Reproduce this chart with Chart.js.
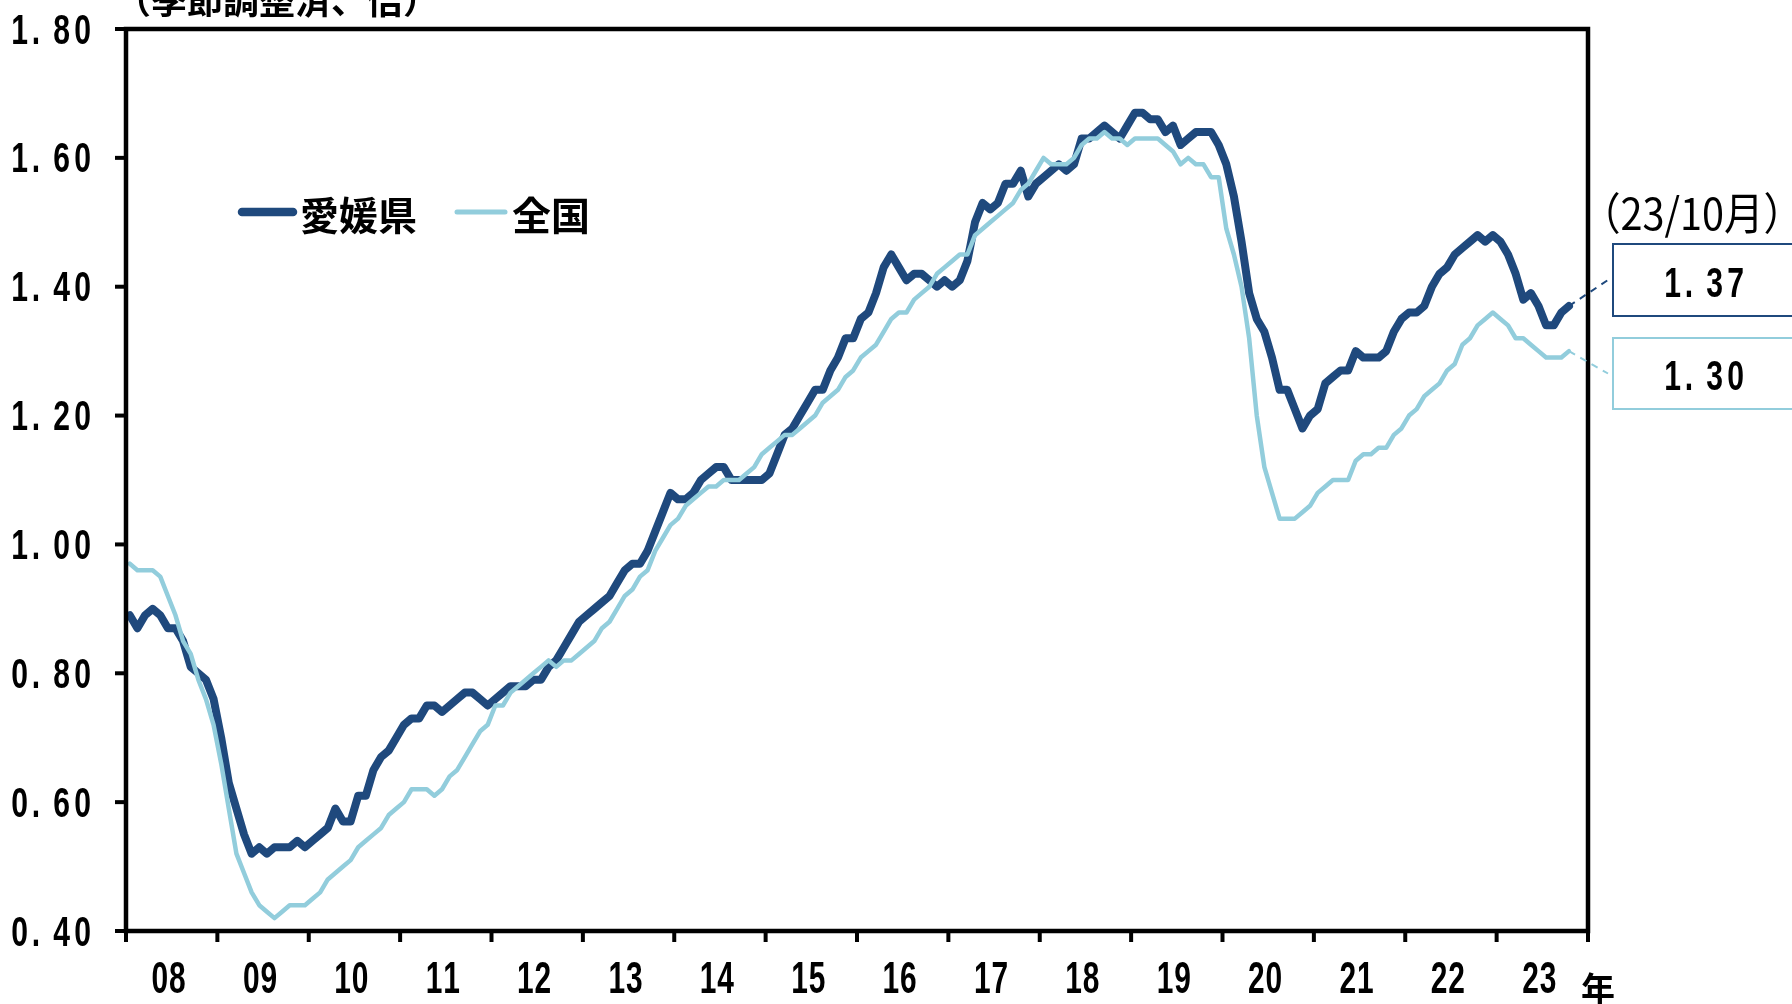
<!DOCTYPE html>
<html lang="ja">
<head>
<meta charset="UTF-8">
<title>有効求人倍率（愛媛県・全国）</title>
<script src="https://cdn.jsdelivr.net/npm/chart.js@4/dist/chart.umd.min.js"></script>
<style>
  html, body { margin: 0; padding: 0; background: #fff; }
  #wrap { width: 1792px; height: 1004px; overflow: hidden; }
</style>
</head>
<body>
<div id="wrap"><canvas id="grafico" width="1792" height="1004"></canvas></div>
<script>
// ---------------------------------------------------------
// Dados (mensal, jan/2008 a out/2023)
// ---------------------------------------------------------
const anos = ["08", "09", "10", "11", "12", "13", "14", "15",
  "16", "17", "18", "19", "20", "21", "22", "23"];

const yTicks = [0.4, 0.6, 0.8, 1.0, 1.2, 1.4, 1.6, 1.8];

const ehime = [
  0.89, 0.87, 0.89, 0.90, 0.89, 0.87, 0.87, 0.85, 0.81, 0.80, 0.79, 0.76,
  0.70, 0.63, 0.59, 0.55, 0.52, 0.53, 0.52, 0.53, 0.53, 0.53, 0.54, 0.53,
  0.54, 0.55, 0.56, 0.59, 0.57, 0.57, 0.61, 0.61, 0.65, 0.67, 0.68, 0.70,
  0.72, 0.73, 0.73, 0.75, 0.75, 0.74, 0.75, 0.76, 0.77, 0.77, 0.76, 0.75,
  0.76, 0.77, 0.78, 0.78, 0.78, 0.79, 0.79, 0.81, 0.82, 0.84, 0.86, 0.88,
  0.89, 0.90, 0.91, 0.92, 0.94, 0.96, 0.97, 0.97, 0.99, 1.02, 1.05, 1.08,
  1.07, 1.07, 1.08, 1.10, 1.11, 1.12, 1.12, 1.10, 1.10, 1.10, 1.10, 1.10,
  1.11, 1.14, 1.17, 1.18, 1.20, 1.22, 1.24, 1.24, 1.27, 1.29, 1.32, 1.32,
  1.35, 1.36, 1.39, 1.43, 1.45, 1.43, 1.41, 1.42, 1.42, 1.41, 1.40, 1.41,
  1.40, 1.41, 1.44, 1.50, 1.53, 1.52, 1.53, 1.56, 1.56, 1.58, 1.54, 1.56,
  1.57, 1.58, 1.59, 1.58, 1.59, 1.63, 1.63, 1.64, 1.65, 1.64, 1.63, 1.65,
  1.67, 1.67, 1.66, 1.66, 1.64, 1.65, 1.62, 1.63, 1.64, 1.64, 1.64, 1.62,
  1.59, 1.54, 1.47, 1.39, 1.35, 1.33, 1.29, 1.24, 1.24, 1.21, 1.18, 1.20,
  1.21, 1.25, 1.26, 1.27, 1.27, 1.30, 1.29, 1.29, 1.29, 1.30, 1.33, 1.35,
  1.36, 1.36, 1.37, 1.40, 1.42, 1.43, 1.45, 1.46, 1.47, 1.48, 1.47, 1.48,
  1.47, 1.45, 1.42, 1.38, 1.39, 1.37, 1.34, 1.34, 1.36, 1.37,
];

const zenkoku = [
  0.97, 0.96, 0.96, 0.96, 0.95, 0.92, 0.89, 0.85, 0.83, 0.79, 0.76, 0.72,
  0.66, 0.59, 0.52, 0.49, 0.46, 0.44, 0.43, 0.42, 0.43, 0.44, 0.44, 0.44,
  0.45, 0.46, 0.48, 0.49, 0.50, 0.51, 0.53, 0.54, 0.55, 0.56, 0.58, 0.59,
  0.60, 0.62, 0.62, 0.62, 0.61, 0.62, 0.64, 0.65, 0.67, 0.69, 0.71, 0.72,
  0.75, 0.75, 0.77, 0.78, 0.79, 0.80, 0.81, 0.82, 0.81, 0.82, 0.82, 0.83,
  0.84, 0.85, 0.87, 0.88, 0.90, 0.92, 0.93, 0.95, 0.96, 0.99, 1.01, 1.03,
  1.04, 1.06, 1.07, 1.08, 1.09, 1.09, 1.10, 1.10, 1.10, 1.11, 1.12, 1.14,
  1.15, 1.16, 1.17, 1.17, 1.18, 1.19, 1.20, 1.22, 1.23, 1.24, 1.26, 1.27,
  1.29, 1.30, 1.31, 1.33, 1.35, 1.36, 1.36, 1.38, 1.39, 1.40, 1.42, 1.43,
  1.44, 1.45, 1.45, 1.48, 1.49, 1.50, 1.51, 1.52, 1.53, 1.55, 1.56, 1.58,
  1.60, 1.59, 1.59, 1.59, 1.60, 1.62, 1.63, 1.63, 1.64, 1.63, 1.63, 1.62,
  1.63, 1.63, 1.63, 1.63, 1.62, 1.61, 1.59, 1.60, 1.59, 1.59, 1.57, 1.57,
  1.49, 1.45, 1.40, 1.32, 1.20, 1.12, 1.08, 1.04, 1.04, 1.04, 1.05, 1.06,
  1.08, 1.09, 1.10, 1.10, 1.10, 1.13, 1.14, 1.14, 1.15, 1.15, 1.17, 1.18,
  1.20, 1.21, 1.23, 1.24, 1.25, 1.27, 1.28, 1.31, 1.32, 1.34, 1.35, 1.36,
  1.35, 1.34, 1.32, 1.32, 1.31, 1.30, 1.29, 1.29, 1.29, 1.30,
];

const ultimoMes = "（23/10月）";

const COR_EHIME = "#1F497D";
const COR_ZENKOKU = "#92CDDC";
const FONTE_SANS = "'Liberation Sans', Arial, sans-serif";
const FONTE_JP = "'Noto Sans CJK JP', 'Noto Sans CJK SC', sans-serif";

// ---------------------------------------------------------
// Texto numérico estreito, um caractere por célula
// ---------------------------------------------------------
function textoMono(ctx, texto, cx, cy, celula, sx, fonte) {
  ctx.font = fonte;
  ctx.textAlign = "center";
  ctx.textBaseline = "alphabetic";
  const inicio = cx - (texto.length * celula) / 2;
  for (let i = 0; i < texto.length; i++) {
    const ch = texto[i];
    const desloc = ch === "." ? -celula * 0.22 : 0;
    ctx.save();
    ctx.translate(inicio + (i + 0.5) * celula + desloc, cy + 15.5);
    ctx.scale(sx, 1);
    ctx.fillText(ch, 0, 0);
    ctx.restore();
  }
}

const FONTE_EIXO = "bold 43px " + FONTE_SANS;
const FONTE_ANO = "bold 44px " + FONTE_SANS;

// ---------------------------------------------------------
// Eixos, rótulos, legenda e caixas do último valor
// ---------------------------------------------------------
const desenho = {
  id: "desenho",
  afterDraw(chart) {
    const { ctx, chartArea: a } = chart;
    const x = chart.scales.x;
    const y = chart.scales.y;
    ctx.save();
    ctx.fillStyle = "#000";
    ctx.strokeStyle = "#000";

    // moldura
    ctx.lineWidth = 4.5;
    ctx.strokeRect(a.left, a.top, a.right - a.left, a.bottom - a.top);

    // eixo Y
    ctx.lineWidth = 4;
    yTicks.forEach((v) => {
      const py = y.getPixelForValue(v);
      ctx.beginPath();
      ctx.moveTo(a.left - 11, py);
      ctx.lineTo(a.left, py);
      ctx.stroke();
      textoMono(ctx, v.toFixed(2), 51, py - 1, 21, 0.7, FONTE_EIXO);
    });

    // eixo X: marcas entre os anos, rótulo no meio do ano
    for (let i = 0; i <= anos.length; i++) {
      const px = x.getPixelForValue(i * 12);
      ctx.beginPath();
      ctx.moveTo(px, a.bottom);
      ctx.lineTo(px, a.bottom + 11);
      ctx.stroke();
    }
    anos.forEach((t, i) => {
      textoMono(ctx, t, x.getPixelForValue(i * 12 + 6) - 3, 977, 17.5, 0.68, FONTE_ANO);
    });

    ctx.font = "bold 34px " + FONTE_JP;
    ctx.textAlign = "center";
    ctx.textBaseline = "middle";
    ctx.fillText("年", 1598, 989);

    // unidade (cortada no topo)
    ctx.font = "bold 36px " + FONTE_JP;
    ctx.textAlign = "left";
    ctx.fillText("（季節調整済、倍）", 115, 0);

    // legenda
    const legenda = [
      { sx: 242, ex: 293, tx: 300, cor: COR_EHIME, lw: 8.5, txt: chart.data.datasets[0].label },
      { sx: 457, ex: 505, tx: 512, cor: COR_ZENKOKU, lw: 5, txt: chart.data.datasets[1].label },
    ];
    legenda.forEach((l) => {
      ctx.strokeStyle = l.cor;
      ctx.lineWidth = l.lw;
      ctx.lineCap = "round";
      ctx.beginPath();
      ctx.moveTo(l.sx, 212);
      ctx.lineTo(l.ex, 212);
      ctx.stroke();
      ctx.fillStyle = "#000";
      ctx.font = "bold 39px " + FONTE_JP;
      ctx.textAlign = "left";
      ctx.textBaseline = "middle";
      ctx.fillText(l.txt, l.tx, 215);
    });

    // último mês
    ctx.save();
    ctx.font = "44px " + FONTE_JP;
    ctx.textAlign = "center";
    ctx.textBaseline = "middle";
    ctx.translate(1692, 213);
    ctx.scale(0.9, 1);
    ctx.fillText(ultimoMes, 0, 0);
    ctx.restore();

    // caixas com o último valor + linhas tracejadas
    const ultimo = ehime.length - 1;
    const caixas = [
      { serie: ehime, cor: COR_EHIME, top: 244, bottom: 316 },
      { serie: zenkoku, cor: COR_ZENKOKU, top: 338, bottom: 409 },
    ];
    caixas.forEach((c) => {
      const cy = (c.top + c.bottom) / 2;
      ctx.strokeStyle = c.cor;
      ctx.lineWidth = 2;
      ctx.lineCap = "butt";
      ctx.strokeRect(1613, c.top, 300, c.bottom - c.top);

      ctx.setLineDash([7, 6]);
      ctx.beginPath();
      ctx.moveTo(x.getPixelForValue(ultimo + 0.5), y.getPixelForValue(c.serie[ultimo]));
      ctx.lineTo(1608, cy);
      ctx.stroke();
      ctx.setLineDash([]);

      ctx.fillStyle = "#000";
      textoMono(ctx, c.serie[ultimo].toFixed(2), 1704, cy + 1, 21, 0.7, FONTE_EIXO);
    });

    ctx.restore();
  },
};

// ---------------------------------------------------------
// Gráfico de linhas
// ---------------------------------------------------------
const pontos = (serie) => serie.map((v, i) => ({ x: i + 0.5, y: v }));

new Chart(document.getElementById("grafico"), {
  type: "line",
  data: {
    datasets: [
      {
        label: "愛媛県",
        data: pontos(ehime),
        borderColor: COR_EHIME,
        borderWidth: 8,
        order: 2,
      },
      {
        label: "全国",
        data: pontos(zenkoku),
        borderColor: COR_ZENKOKU,
        borderWidth: 4.5,
        order: 1,
      },
    ],
  },
  options: {
    responsive: false,
    animation: false,
    devicePixelRatio: 1,
    layout: { padding: { left: 126, top: 29, right: 204, bottom: 73 } },
    elements: {
      point: { radius: 0, hoverRadius: 0 },
      line: { tension: 0, borderJoinStyle: "round", borderCapStyle: "round", fill: false },
    },
    plugins: { legend: { display: false }, tooltip: { enabled: false } },
    scales: {
      x: { type: "linear", display: false, min: 0, max: 192 },
      y: { type: "linear", display: false, min: 0.4, max: 1.8 },
    },
  },
  plugins: [desenho],
});
</script>
</body>
</html>
